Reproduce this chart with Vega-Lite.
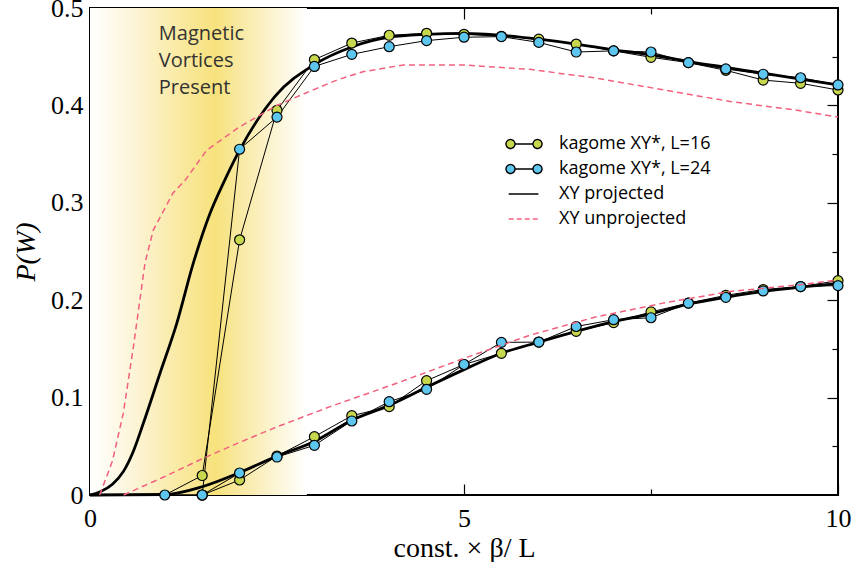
{
  "$schema": "https://vega.github.io/schema/vega-lite/v6.json",
  "width": 748,
  "height": 487,
  "autosize": "none",
  "padding": {"left": 90, "top": 8, "right": 17, "bottom": 67},
  "background": "white",
  "config": {
    "view": {"stroke": "black", "strokeWidth": 2},
    "axis": {"domain": false, "grid": false, "tickColor": "black", "tickWidth": 1.2, "labelFlush": false, "labelFont": "Liberation Serif", "labelFontSize": 26, "labelColor": "black", "titleFont": "Liberation Serif", "titleFontSize": 28, "titleFontWeight": "normal", "titleColor": "black"},
    "legend": {"orient": "none", "legendX": 424, "legendY": 126, "title": null, "padding": 0, "labelFont": "Open Sans", "labelFontSize": 18, "labelColor": "black", "labelOffset": 25, "rowPadding": 6, "symbolSize": 324, "symbolOpacity": 1}
  },
  "datasets": {
    "kag": [
      {"series": "kagome XY*, L=16", "branch": "upper", "x": 1.0, "y": 0.0},
      {"series": "kagome XY*, L=16", "branch": "upper", "x": 1.5, "y": 0.02},
      {"series": "kagome XY*, L=16", "branch": "upper", "x": 2.0, "y": 0.262},
      {"series": "kagome XY*, L=16", "branch": "upper", "x": 2.5, "y": 0.395},
      {"series": "kagome XY*, L=16", "branch": "upper", "x": 3.0, "y": 0.447},
      {"series": "kagome XY*, L=16", "branch": "upper", "x": 3.5, "y": 0.464},
      {"series": "kagome XY*, L=16", "branch": "upper", "x": 4.0, "y": 0.472},
      {"series": "kagome XY*, L=16", "branch": "upper", "x": 4.5, "y": 0.474},
      {"series": "kagome XY*, L=16", "branch": "upper", "x": 5.0, "y": 0.473},
      {"series": "kagome XY*, L=16", "branch": "upper", "x": 5.5, "y": 0.471},
      {"series": "kagome XY*, L=16", "branch": "upper", "x": 6.0, "y": 0.468},
      {"series": "kagome XY*, L=16", "branch": "upper", "x": 6.5, "y": 0.463},
      {"series": "kagome XY*, L=16", "branch": "upper", "x": 7.0, "y": 0.456},
      {"series": "kagome XY*, L=16", "branch": "upper", "x": 7.5, "y": 0.4494},
      {"series": "kagome XY*, L=16", "branch": "upper", "x": 8.0, "y": 0.4439},
      {"series": "kagome XY*, L=16", "branch": "upper", "x": 8.5, "y": 0.436},
      {"series": "kagome XY*, L=16", "branch": "upper", "x": 9.0, "y": 0.426},
      {"series": "kagome XY*, L=16", "branch": "upper", "x": 9.5, "y": 0.4227},
      {"series": "kagome XY*, L=16", "branch": "upper", "x": 10.0, "y": 0.4158},
      {"series": "kagome XY*, L=24", "branch": "upper", "x": 1.0, "y": 0.0},
      {"series": "kagome XY*, L=24", "branch": "upper", "x": 1.5, "y": 0.0},
      {"series": "kagome XY*, L=24", "branch": "upper", "x": 2.0, "y": 0.355},
      {"series": "kagome XY*, L=24", "branch": "upper", "x": 2.5, "y": 0.388},
      {"series": "kagome XY*, L=24", "branch": "upper", "x": 3.0, "y": 0.44},
      {"series": "kagome XY*, L=24", "branch": "upper", "x": 3.5, "y": 0.4524},
      {"series": "kagome XY*, L=24", "branch": "upper", "x": 4.0, "y": 0.4603},
      {"series": "kagome XY*, L=24", "branch": "upper", "x": 4.5, "y": 0.4665},
      {"series": "kagome XY*, L=24", "branch": "upper", "x": 5.0, "y": 0.47},
      {"series": "kagome XY*, L=24", "branch": "upper", "x": 5.5, "y": 0.4706},
      {"series": "kagome XY*, L=24", "branch": "upper", "x": 6.0, "y": 0.4647},
      {"series": "kagome XY*, L=24", "branch": "upper", "x": 6.5, "y": 0.4548},
      {"series": "kagome XY*, L=24", "branch": "upper", "x": 7.0, "y": 0.456},
      {"series": "kagome XY*, L=24", "branch": "upper", "x": 7.5, "y": 0.4548},
      {"series": "kagome XY*, L=24", "branch": "upper", "x": 8.0, "y": 0.4439},
      {"series": "kagome XY*, L=24", "branch": "upper", "x": 8.5, "y": 0.4374},
      {"series": "kagome XY*, L=24", "branch": "upper", "x": 9.0, "y": 0.432},
      {"series": "kagome XY*, L=24", "branch": "upper", "x": 9.5, "y": 0.4284},
      {"series": "kagome XY*, L=24", "branch": "upper", "x": 10.0, "y": 0.421},
      {"series": "kagome XY*, L=16", "branch": "lower", "x": 1.5, "y": 0.0},
      {"series": "kagome XY*, L=16", "branch": "lower", "x": 2.0, "y": 0.0154},
      {"series": "kagome XY*, L=16", "branch": "lower", "x": 2.5, "y": 0.04},
      {"series": "kagome XY*, L=16", "branch": "lower", "x": 3.0, "y": 0.0599},
      {"series": "kagome XY*, L=16", "branch": "lower", "x": 3.5, "y": 0.0814},
      {"series": "kagome XY*, L=16", "branch": "lower", "x": 4.0, "y": 0.0907},
      {"series": "kagome XY*, L=16", "branch": "lower", "x": 4.5, "y": 0.1174},
      {"series": "kagome XY*, L=16", "branch": "lower", "x": 5.0, "y": 0.134},
      {"series": "kagome XY*, L=16", "branch": "lower", "x": 5.5, "y": 0.1455},
      {"series": "kagome XY*, L=16", "branch": "lower", "x": 6.0, "y": 0.157},
      {"series": "kagome XY*, L=16", "branch": "lower", "x": 6.5, "y": 0.168},
      {"series": "kagome XY*, L=16", "branch": "lower", "x": 7.0, "y": 0.177},
      {"series": "kagome XY*, L=16", "branch": "lower", "x": 7.5, "y": 0.188},
      {"series": "kagome XY*, L=16", "branch": "lower", "x": 8.0, "y": 0.197},
      {"series": "kagome XY*, L=16", "branch": "lower", "x": 8.5, "y": 0.205},
      {"series": "kagome XY*, L=16", "branch": "lower", "x": 9.0, "y": 0.211},
      {"series": "kagome XY*, L=16", "branch": "lower", "x": 9.5, "y": 0.214},
      {"series": "kagome XY*, L=16", "branch": "lower", "x": 10.0, "y": 0.22},
      {"series": "kagome XY*, L=24", "branch": "lower", "x": 1.0, "y": 0.0},
      {"series": "kagome XY*, L=24", "branch": "lower", "x": 1.5, "y": 0.0},
      {"series": "kagome XY*, L=24", "branch": "lower", "x": 2.0, "y": 0.0226},
      {"series": "kagome XY*, L=24", "branch": "lower", "x": 2.5, "y": 0.039},
      {"series": "kagome XY*, L=24", "branch": "lower", "x": 3.0, "y": 0.051},
      {"series": "kagome XY*, L=24", "branch": "lower", "x": 3.5, "y": 0.076},
      {"series": "kagome XY*, L=24", "branch": "lower", "x": 4.0, "y": 0.0958},
      {"series": "kagome XY*, L=24", "branch": "lower", "x": 4.5, "y": 0.1085},
      {"series": "kagome XY*, L=24", "branch": "lower", "x": 5.0, "y": 0.134},
      {"series": "kagome XY*, L=24", "branch": "lower", "x": 5.5, "y": 0.1567},
      {"series": "kagome XY*, L=24", "branch": "lower", "x": 6.0, "y": 0.157},
      {"series": "kagome XY*, L=24", "branch": "lower", "x": 6.5, "y": 0.173},
      {"series": "kagome XY*, L=24", "branch": "lower", "x": 7.0, "y": 0.18},
      {"series": "kagome XY*, L=24", "branch": "lower", "x": 7.5, "y": 0.182},
      {"series": "kagome XY*, L=24", "branch": "lower", "x": 8.0, "y": 0.197},
      {"series": "kagome XY*, L=24", "branch": "lower", "x": 8.5, "y": 0.203},
      {"series": "kagome XY*, L=24", "branch": "lower", "x": 9.0, "y": 0.2095},
      {"series": "kagome XY*, L=24", "branch": "lower", "x": 9.5, "y": 0.214},
      {"series": "kagome XY*, L=24", "branch": "lower", "x": 10.0, "y": 0.215}
    ],
    "xy": [
      {"series": "XY projected", "branch": "upper", "x": 0.0, "y": 0.0},
      {"series": "XY projected", "branch": "upper", "x": 0.13, "y": 0.003},
      {"series": "XY projected", "branch": "upper", "x": 0.3, "y": 0.011},
      {"series": "XY projected", "branch": "upper", "x": 0.445, "y": 0.024},
      {"series": "XY projected", "branch": "upper", "x": 0.58, "y": 0.045},
      {"series": "XY projected", "branch": "upper", "x": 0.713, "y": 0.0736},
      {"series": "XY projected", "branch": "upper", "x": 0.936, "y": 0.125},
      {"series": "XY projected", "branch": "upper", "x": 1.159, "y": 0.176},
      {"series": "XY projected", "branch": "upper", "x": 1.381, "y": 0.238},
      {"series": "XY projected", "branch": "upper", "x": 1.604, "y": 0.289},
      {"series": "XY projected", "branch": "upper", "x": 1.8, "y": 0.323},
      {"series": "XY projected", "branch": "upper", "x": 2.0, "y": 0.354},
      {"series": "XY projected", "branch": "upper", "x": 2.47, "y": 0.409},
      {"series": "XY projected", "branch": "upper", "x": 3.0, "y": 0.442},
      {"series": "XY projected", "branch": "upper", "x": 3.5, "y": 0.46},
      {"series": "XY projected", "branch": "upper", "x": 4.0, "y": 0.47},
      {"series": "XY projected", "branch": "upper", "x": 4.5, "y": 0.473},
      {"series": "XY projected", "branch": "upper", "x": 5.0, "y": 0.474},
      {"series": "XY projected", "branch": "upper", "x": 5.5, "y": 0.472},
      {"series": "XY projected", "branch": "upper", "x": 6.0, "y": 0.468},
      {"series": "XY projected", "branch": "upper", "x": 6.5, "y": 0.463},
      {"series": "XY projected", "branch": "upper", "x": 7.0, "y": 0.457},
      {"series": "XY projected", "branch": "upper", "x": 7.5, "y": 0.452},
      {"series": "XY projected", "branch": "upper", "x": 8.0, "y": 0.445},
      {"series": "XY projected", "branch": "upper", "x": 8.5, "y": 0.439},
      {"series": "XY projected", "branch": "upper", "x": 9.0, "y": 0.433},
      {"series": "XY projected", "branch": "upper", "x": 9.5, "y": 0.427},
      {"series": "XY projected", "branch": "upper", "x": 10.0, "y": 0.421},
      {"series": "XY projected", "branch": "lower", "x": 0.0, "y": 0.0},
      {"series": "XY projected", "branch": "lower", "x": 1.0, "y": 0.0005},
      {"series": "XY projected", "branch": "lower", "x": 1.5, "y": 0.0085},
      {"series": "XY projected", "branch": "lower", "x": 2.0, "y": 0.023},
      {"series": "XY projected", "branch": "lower", "x": 2.5, "y": 0.04},
      {"series": "XY projected", "branch": "lower", "x": 3.0, "y": 0.055},
      {"series": "XY projected", "branch": "lower", "x": 3.5, "y": 0.0767},
      {"series": "XY projected", "branch": "lower", "x": 4.0, "y": 0.092},
      {"series": "XY projected", "branch": "lower", "x": 4.5, "y": 0.1106},
      {"series": "XY projected", "branch": "lower", "x": 5.0, "y": 0.1287},
      {"series": "XY projected", "branch": "lower", "x": 5.5, "y": 0.1455},
      {"series": "XY projected", "branch": "lower", "x": 6.0, "y": 0.157},
      {"series": "XY projected", "branch": "lower", "x": 6.5, "y": 0.168},
      {"series": "XY projected", "branch": "lower", "x": 7.0, "y": 0.178},
      {"series": "XY projected", "branch": "lower", "x": 7.5, "y": 0.186},
      {"series": "XY projected", "branch": "lower", "x": 8.0, "y": 0.196},
      {"series": "XY projected", "branch": "lower", "x": 8.5, "y": 0.203},
      {"series": "XY projected", "branch": "lower", "x": 9.0, "y": 0.209},
      {"series": "XY projected", "branch": "lower", "x": 9.5, "y": 0.2135},
      {"series": "XY projected", "branch": "lower", "x": 10.0, "y": 0.217},
      {"series": "XY unprojected", "branch": "upper", "x": 0.13, "y": 0.0},
      {"series": "XY unprojected", "branch": "upper", "x": 0.3, "y": 0.035},
      {"series": "XY unprojected", "branch": "upper", "x": 0.445, "y": 0.0838},
      {"series": "XY unprojected", "branch": "upper", "x": 0.58, "y": 0.152},
      {"series": "XY unprojected", "branch": "upper", "x": 0.735, "y": 0.238},
      {"series": "XY unprojected", "branch": "upper", "x": 0.846, "y": 0.272},
      {"series": "XY unprojected", "branch": "upper", "x": 1.11, "y": 0.31},
      {"series": "XY unprojected", "branch": "upper", "x": 1.27, "y": 0.323},
      {"series": "XY unprojected", "branch": "upper", "x": 1.56, "y": 0.354},
      {"series": "XY unprojected", "branch": "upper", "x": 2.0, "y": 0.378},
      {"series": "XY unprojected", "branch": "upper", "x": 2.5, "y": 0.4},
      {"series": "XY unprojected", "branch": "upper", "x": 2.985, "y": 0.416},
      {"series": "XY unprojected", "branch": "upper", "x": 3.3, "y": 0.426},
      {"series": "XY unprojected", "branch": "upper", "x": 3.65, "y": 0.4346},
      {"series": "XY unprojected", "branch": "upper", "x": 4.19, "y": 0.4415},
      {"series": "XY unprojected", "branch": "upper", "x": 4.99, "y": 0.4415},
      {"series": "XY unprojected", "branch": "upper", "x": 5.88, "y": 0.437},
      {"series": "XY unprojected", "branch": "upper", "x": 6.77, "y": 0.428},
      {"series": "XY unprojected", "branch": "upper", "x": 7.66, "y": 0.416},
      {"series": "XY unprojected", "branch": "upper", "x": 8.56, "y": 0.404},
      {"series": "XY unprojected", "branch": "upper", "x": 9.45, "y": 0.395},
      {"series": "XY unprojected", "branch": "upper", "x": 10.0, "y": 0.388},
      {"series": "XY unprojected", "branch": "lower", "x": 0.45, "y": 0.0},
      {"series": "XY unprojected", "branch": "lower", "x": 1.0, "y": 0.019},
      {"series": "XY unprojected", "branch": "lower", "x": 1.51, "y": 0.0376},
      {"series": "XY unprojected", "branch": "lower", "x": 2.0, "y": 0.054},
      {"series": "XY unprojected", "branch": "lower", "x": 2.5, "y": 0.07},
      {"series": "XY unprojected", "branch": "lower", "x": 3.21, "y": 0.0907},
      {"series": "XY unprojected", "branch": "lower", "x": 4.1, "y": 0.1147},
      {"series": "XY unprojected", "branch": "lower", "x": 4.99, "y": 0.14},
      {"series": "XY unprojected", "branch": "lower", "x": 5.88, "y": 0.164},
      {"series": "XY unprojected", "branch": "lower", "x": 6.77, "y": 0.183},
      {"series": "XY unprojected", "branch": "lower", "x": 7.66, "y": 0.197},
      {"series": "XY unprojected", "branch": "lower", "x": 8.56, "y": 0.209},
      {"series": "XY unprojected", "branch": "lower", "x": 9.45, "y": 0.2156},
      {"series": "XY unprojected", "branch": "lower", "x": 10.0, "y": 0.2207}
    ]
  },
  "resolve": {"axis": {"x": "independent", "y": "independent"}},
  "layer": [
    {
      "data": {"values": [{"from": 0, "to": 2.9}]},
      "mark": {"type": "rect", "fill": {"gradient": "linear", "x1": 0, "x2": 1, "y1": 0, "y2": 0, "stops": [
        {"offset": 0, "color": "#ffffff"},
        {"offset": 0.2, "color": "#fcf5d8"},
        {"offset": 0.42, "color": "#f9e9a0"},
        {"offset": 0.58, "color": "#f7e27c"},
        {"offset": 0.7, "color": "#f9eaa6"},
        {"offset": 0.86, "color": "#fcf5d6"},
        {"offset": 1, "color": "#ffffff"}
      ]}},
      "encoding": {
        "x": {"field": "from", "type": "quantitative", "scale": {"domain": [0, 10], "nice": false, "zero": false},
          "axis": {"orient": "bottom", "values": [0, 5, 10], "tickSize": -11, "labelPadding": 21, "title": "const. × β/ L", "titlePadding": 3}},
        "x2": {"field": "to"}
      }
    },
    {
      "data": {"values": [{"x": 0.92, "y": 0.467}]},
      "mark": {"type": "text", "text": ["Magnetic", "Vortices", "Present"], "align": "left", "baseline": "alphabetic", "font": "Open Sans", "fontSize": 20, "lineHeight": 27, "color": "#333333"},
      "encoding": {
        "x": {"field": "x", "type": "quantitative", "axis": {"orient": "bottom", "values": [2.5, 7.5], "tickSize": -6, "labels": false, "title": null}},
        "y": {"field": "y", "type": "quantitative", "scale": {"domain": [0, 0.5], "nice": false, "zero": false},
          "axis": {"orient": "left", "values": [0, 0.1, 0.2, 0.3, 0.4, 0.5], "format": ".1~f", "tickSize": -11, "labelPadding": 18, "title": "P(W)", "titleFontStyle": "italic", "titlePadding": 10}}
      }
    },
    {
      "data": {"name": "xy"},
      "transform": [{"filter": "datum.series === 'XY projected'"}],
      "mark": {"type": "line", "color": "black", "strokeWidth": 2.8, "interpolate": "monotone"},
      "encoding": {
        "x": {"field": "x", "type": "quantitative", "axis": {"orient": "top", "values": [5], "tickSize": -11, "labels": false, "title": null}},
        "y": {"field": "y", "type": "quantitative", "axis": {"orient": "left", "values": [0.05, 0.15, 0.25, 0.35, 0.45], "tickSize": -6, "labels": false, "title": null}},
        "detail": {"field": "branch"}
      }
    },
    {
      "data": {"name": "kag"},
      "mark": {"type": "line", "color": "black", "strokeWidth": 1},
      "encoding": {
        "x": {"field": "x", "type": "quantitative", "axis": {"orient": "top", "values": [2.5, 7.5], "tickSize": -6, "labels": false, "title": null}},
        "y": {"field": "y", "type": "quantitative", "axis": {"orient": "right", "values": [0.1, 0.2, 0.3, 0.4], "tickSize": -11, "labels": false, "title": null}},
        "detail": [{"field": "series"}, {"field": "branch"}]
      }
    },
    {
      "data": {"name": "kag"},
      "transform": [{"filter": "!(datum.x === 1.0 && datum.branch === 'upper')"}],
      "mark": {"type": "point", "filled": true, "size": 100, "stroke": "black", "strokeWidth": 1.2, "opacity": 1},
      "encoding": {
        "x": {"field": "x", "type": "quantitative", "axis": null},
        "y": {"field": "y", "type": "quantitative", "axis": {"orient": "right", "values": [0.05, 0.15, 0.25, 0.35, 0.45], "tickSize": -6, "labels": false, "title": null}},
        "fill": {"field": "series", "type": "nominal", "scale": {"domain": ["kagome XY*, L=16", "kagome XY*, L=24", "XY projected", "XY unprojected"], "range": ["#c8d84e", "#5cc6ee", "transparent", "transparent"]}}
      }
    },
    {
      "data": {"name": "xy"},
      "transform": [{"filter": "datum.series === 'XY unprojected'"}],
      "mark": {"type": "line", "color": "#f2607f", "strokeWidth": 1.5, "strokeDash": [6, 4]},
      "encoding": {
        "x": {"field": "x", "type": "quantitative", "axis": null},
        "y": {"field": "y", "type": "quantitative", "axis": null},
        "detail": {"field": "branch"}
      }
    },
    {
      "data": {"name": "xy"},
      "transform": [{"filter": "false"}],
      "mark": {"type": "point", "filled": true, "size": 324, "opacity": 1},
      "encoding": {
        "fill": {"field": "series", "type": "nominal", "scale": {"domain": ["kagome XY*, L=16", "kagome XY*, L=24", "XY projected", "XY unprojected"], "range": ["#c8d84e", "#5cc6ee", "transparent", "transparent"]}},
        "shape": {"field": "series", "type": "nominal", "scale": {"domain": ["kagome XY*, L=16", "kagome XY*, L=24", "XY projected", "XY unprojected"], "range": [
          "M-2,0A0.5,0.5 0 1,1 -1,0A0.5,0.5 0 1,1 -2,0Z M-1,0L1,0 M1,0A0.5,0.5 0 1,1 2,0A0.5,0.5 0 1,1 1,0Z",
          "M-2,0A0.5,0.5 0 1,1 -1,0A0.5,0.5 0 1,1 -2,0Z M-1,0L1,0 M1,0A0.5,0.5 0 1,1 2,0A0.5,0.5 0 1,1 1,0Z",
          "M-1.7,0L1.6,0",
          "M-1.7,0L1.6,0"
        ]}},
        "stroke": {"field": "series", "type": "nominal", "scale": {"domain": ["kagome XY*, L=16", "kagome XY*, L=24", "XY projected", "XY unprojected"], "range": ["black", "black", "black", "#f2607f"]}},
        "strokeWidth": {"field": "series", "type": "nominal", "scale": {"domain": ["kagome XY*, L=16", "kagome XY*, L=24", "XY projected", "XY unprojected"], "range": [1.4, 1.4, 3, 1.5]}},
        "strokeDash": {"field": "series", "type": "nominal", "scale": {"domain": ["kagome XY*, L=16", "kagome XY*, L=24", "XY projected", "XY unprojected"], "range": [[1, 0], [1, 0], [1, 0], [5, 3]]}}
      }
    }
  ]
}
